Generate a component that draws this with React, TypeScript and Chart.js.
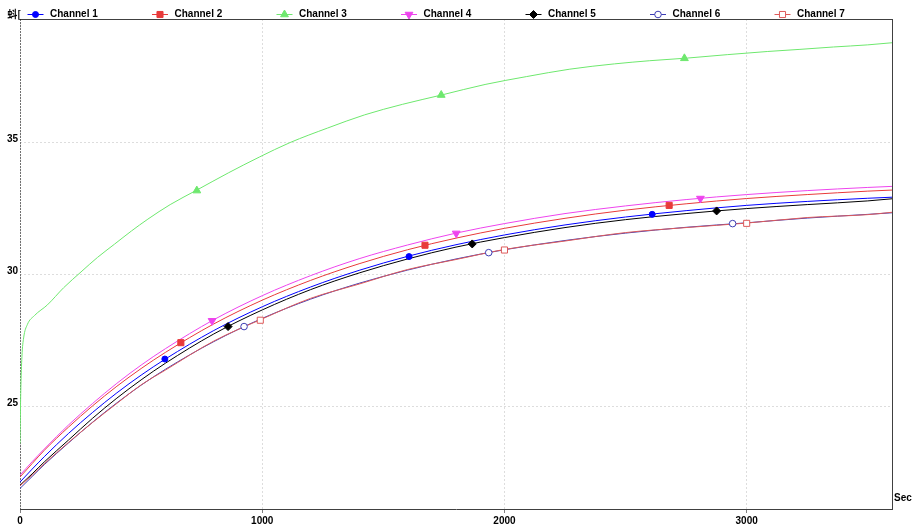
import React, { useEffect, useRef } from 'react';
import { Chart, registerables } from 'chart.js';
import { drawPoint } from 'chart.js/helpers';

Chart.register(...registerables);

// ---- data (seconds / temperature) ----
const timeSec = [0, 50, 100, 200, 300, 400, 500, 600, 800, 1000, 1200, 1400, 1600, 1800, 2000, 2250, 2500, 2750, 3000, 3250, 3500, 3600];
const ch1 = [22.14, 22.63, 23.10, 23.98, 24.78, 25.52, 26.19, 26.80, 27.88, 28.78, 29.53, 30.16, 30.69, 31.13, 31.50, 31.88, 32.18, 32.42, 32.62, 32.77, 32.89, 32.93];
const ch2 = [22.33, 22.84, 23.34, 24.22, 25.03, 25.77, 26.44, 27.05, 28.13, 29.03, 29.78, 30.41, 30.94, 31.38, 31.75, 32.13, 32.44, 32.68, 32.88, 33.03, 33.16, 33.20];
const ch4 = [22.40, 22.91, 23.39, 24.30, 25.12, 25.88, 26.57, 27.19, 28.29, 29.20, 29.96, 30.60, 31.12, 31.57, 31.93, 32.31, 32.60, 32.84, 33.03, 33.18, 33.30, 33.34];
const ch5 = [22.02, 22.45, 22.90, 23.73, 24.56, 25.32, 26.01, 26.64, 27.75, 28.66, 29.43, 30.06, 30.59, 31.04, 31.40, 31.78, 32.08, 32.31, 32.50, 32.65, 32.79, 32.87];
const ch6 = [21.90, 22.35, 22.80, 23.62, 24.41, 25.14, 25.81, 26.41, 27.46, 28.34, 29.07, 29.67, 30.17, 30.59, 30.94, 31.29, 31.57, 31.79, 31.96, 32.14, 32.28, 32.34];
const ch7 = [22.00, 22.40, 22.83, 23.64, 24.40, 25.12, 25.82, 26.38, 27.48, 28.32, 29.10, 29.64, 30.19, 30.57, 30.95, 31.27, 31.59, 31.78, 31.95, 32.16, 32.27, 32.36];

const ch3Time = [0, 3, 8, 15, 30, 60, 113, 180, 252, 320, 390, 460, 528, 620, 726, 860, 988, 1115, 1270, 1423, 1580, 1740, 1920, 2092, 2270, 2454, 2600, 2755, 2920, 3087, 3220, 3358, 3500, 3600];
const ch3 = [23.6, 25.5, 26.9, 27.6, 28.1, 28.45, 28.85, 29.5, 30.1, 30.65, 31.15, 31.65, 32.1, 32.65, 33.18, 33.85, 34.45, 35.0, 35.55, 36.05, 36.45, 36.8, 37.2, 37.5, 37.78, 37.98, 38.1, 38.2, 38.33, 38.45, 38.53, 38.62, 38.7, 38.78];

// marker positions (every ~1000 s, staggered per channel)
const mk1T = [598, 1606, 2610];
const mk1V = [26.80, 30.68, 32.28];
const mk2T = [664, 1672, 2680];
const mk2V = [27.42, 31.11, 32.62];
const mk3T = [730, 1739, 2743];
const mk3V = [33.18, 36.80, 38.19];
const mk4T = [793, 1801, 2809];
const mk4V = [28.25, 31.56, 32.88];
const mk5T = [859, 1867, 2876];
const mk5V = [28.03, 31.16, 32.41];
const mk6T = [925, 1935, 2942];
const mk6V = [28.03, 30.83, 31.93];
const mk7T = [992, 2000, 3000];
const mk7V = [28.27, 30.93, 31.94];

const seriesNames = ['Channel 1', 'Channel 2', 'Channel 3', 'Channel 4', 'Channel 5', 'Channel 6', 'Channel 7'];
const xTicks = [0, 1000, 2000, 3000];
const yTicks = [25, 30, 35];
const xUnit = 'Sec';
const yTitle = '蚪[';

// ---- styles ----
const colors = ['#0000ff', '#e83a3a', '#6ee86e', '#ee44ee', '#000000', '#3c3cb4', '#dd5a5a'];
const styles = [
  { pointStyle: 'circle', radius: 3, rotation: 0, fill: true },
  { pointStyle: 'rect', radius: 4.3, rotation: 0, fill: true },
  { pointStyle: 'triangle', radius: 4.5, rotation: 0, fill: true },
  { pointStyle: 'triangle', radius: 4.5, rotation: 180, fill: true },
  { pointStyle: 'rectRot', radius: 4, rotation: 0, fill: true },
  { pointStyle: 'circle', radius: 3.3, rotation: 0, fill: false },
  { pointStyle: 'rect', radius: 4.3, rotation: 0, fill: false },
];
const FONT = '"Liberation Sans", Arial, sans-serif';

const lineSeries = [
  { t: timeSec, v: ch1 },
  { t: timeSec, v: ch2 },
  { t: ch3Time, v: ch3 },
  { t: timeSec, v: ch4 },
  { t: timeSec, v: ch5 },
  { t: timeSec, v: ch6 },
  { t: timeSec, v: ch7 },
];
const markerSeries = [
  { t: mk1T, v: mk1V },
  { t: mk2T, v: mk2V },
  { t: mk3T, v: mk3V },
  { t: mk4T, v: mk4V },
  { t: mk5T, v: mk5V },
  { t: mk6T, v: mk6V },
  { t: mk7T, v: mk7V },
];

const framePlugin = {
  id: 'frame',
  beforeDatasetsDraw(chart: any) {
    const { ctx, chartArea } = chart;
    const { left, right, top, bottom } = chartArea;
    ctx.save();
    ctx.lineWidth = 1;
    ctx.strokeStyle = '#707070';
    ctx.setLineDash([2, 1]);
    ctx.beginPath();
    ctx.moveTo(left + 0.5, top);
    ctx.lineTo(left + 0.5, bottom);
    ctx.stroke();
    ctx.setLineDash([]);
    ctx.strokeStyle = '#404040';
    ctx.beginPath();
    ctx.moveTo(left, top + 0.5);
    ctx.lineTo(right + 1, top + 0.5);
    ctx.moveTo(right + 0.5, top);
    ctx.lineTo(right + 0.5, bottom + 1);
    ctx.moveTo(left, bottom + 0.5);
    ctx.lineTo(right + 1, bottom + 0.5);
    ctx.stroke();
    ctx.restore();
  },
  afterDraw(chart: any) {
    const { ctx, chartArea } = chart;
    ctx.save();
    ctx.font = `bold 10px ${FONT}`;
    ctx.textBaseline = 'middle';
    ctx.fillStyle = '#000';
    // legend
    const ly = 14;
    seriesNames.forEach((name, i) => {
      const tx = 50 + i * 124.5;
      const mx = tx - 14.5;
      ctx.strokeStyle = colors[i];
      ctx.lineWidth = 1;
      ctx.beginPath();
      ctx.moveTo(mx - 8, ly + 0.5);
      ctx.lineTo(mx + 8, ly + 0.5);
      ctx.stroke();
      const s = styles[i];
      ctx.fillStyle = s.fill ? colors[i] : '#ffffff';
      ctx.strokeStyle = colors[i];
      drawPoint(ctx, { pointStyle: s.pointStyle as any, radius: s.radius, rotation: s.rotation, borderWidth: 1 }, mx, ly + 0.5);
      ctx.fillStyle = '#000';
      ctx.textAlign = 'left';
      ctx.fillText(name, tx, ly);
    });
    // y title (garbled in original)
    ctx.textAlign = 'right';
    ctx.font = `bold 10px "Noto Sans CJK SC", ${FONT}`;
    ctx.fillText(yTitle, chartArea.left + 1, ly);
    // x unit
    ctx.textAlign = 'left';
    ctx.font = `bold 10px ${FONT}`;
    ctx.fillText(xUnit, chartArea.right + 2, chartArea.bottom - 11);
    ctx.restore();
  },
};

export default function App() {
  const ref = useRef<HTMLCanvasElement>(null);
  useEffect(() => {
    document.body.style.margin = '0';
    const datasets: any[] = [];
    lineSeries.forEach((s, i) => {
      datasets.push({
        label: seriesNames[i],
        data: s.t.map((t, j) => ({ x: t, y: s.v[j] })),
        borderColor: colors[i],
        borderWidth: 1,
        pointRadius: 0,
        cubicInterpolationMode: 'monotone',
        fill: false,
        order: 7 - i,
      });
    });
    markerSeries.forEach((s, i) => {
      const st = styles[i];
      datasets.push({
        label: seriesNames[i] + ' markers',
        data: s.t.map((t, j) => ({ x: t, y: s.v[j] })),
        showLine: false,
        borderColor: colors[i],
        backgroundColor: st.fill ? colors[i] : '#ffffff',
        pointStyle: st.pointStyle,
        pointRadius: st.radius,
        pointRotation: st.rotation,
        pointBorderWidth: 1,
        order: 0,
      });
    });
    const chart = new Chart(ref.current as HTMLCanvasElement, {
      type: 'line',
      data: { datasets },
      plugins: [framePlugin],
      options: {
        animation: false,
        responsive: false,
        maintainAspectRatio: false,
        events: [],
        layout: { padding: { top: 19, right: 25, left: 0, bottom: 0 } },
        plugins: { legend: { display: false }, tooltip: { enabled: false } },
        scales: {
          x: {
            type: 'linear',
            min: 0,
            max: 3600,
            afterBuildTicks: (scale: any) => {
              scale.ticks = xTicks.map((v) => ({ value: v }));
            },
            afterFit: (scale: any) => {
              scale.height = 19;
            },
            grid: {
              color: '#dddddd',
              lineWidth: 1,
              tickLength: 4,
              tickColor: '#808080',
              tickBorderDash: [1, 0],
            },
            border: { display: false, dash: [2, 2] },
            ticks: {
              color: '#000',
              font: { family: FONT, size: 10, weight: 'bold' },
              padding: 2,
              maxRotation: 0,
              autoSkip: false,
              callback: (v: any) => String(v),
            },
          },
          y: {
            type: 'linear',
            min: 21.12,
            max: 39.68,
            afterBuildTicks: (scale: any) => {
              scale.ticks = yTicks.map((v) => ({ value: v }));
            },
            afterFit: (scale: any) => {
              scale.width = 20;
            },
            grid: { color: '#dddddd', lineWidth: 1, drawTicks: false },
            border: { display: false, dash: [2, 2] },
            ticks: {
              color: '#000',
              font: { family: FONT, size: 10, weight: 'bold' },
              padding: 2,
              labelOffset: -3,
              autoSkip: false,
              callback: (v: any) => String(v),
            },
          },
        },
      } as any,
    });
    return () => chart.destroy();
  }, []);
  return (
    <div style={{ width: 917, height: 528, background: '#fff' }}>
      <canvas ref={ref} width={917} height={528} style={{ display: 'block' }} />
    </div>
  );
}
